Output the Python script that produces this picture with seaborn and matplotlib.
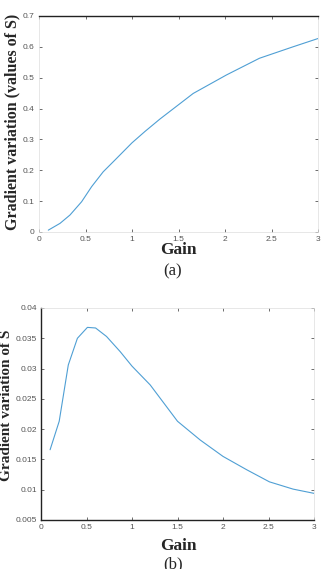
import matplotlib

matplotlib.use("Agg")

import matplotlib.pyplot as plt
import pandas as pd
import seaborn as sns

# (a) values of S against gain
gain_a = [0.1, 0.226, 0.333, 0.458, 0.566, 0.69, 0.816, 1.0, 1.14, 1.3, 1.533, 1.658, 2.016, 2.37, 2.73, 3.0]
s_a = [0.006, 0.028, 0.055, 0.098, 0.147, 0.195, 0.233, 0.289, 0.326, 0.366, 0.42, 0.449, 0.509,
       0.563, 0.6, 0.627]

# (b) gradient variation of S against gain
gain_b = [0.1, 0.2, 0.3, 0.4, 0.51, 0.6, 0.72, 0.87, 1.0, 1.2, 1.5, 1.75, 2.0, 2.26, 2.51, 2.77, 3.0]
s_b = [0.0166, 0.0213, 0.0306, 0.035, 0.0368, 0.0367, 0.0353, 0.0328, 0.0304, 0.0273, 0.0213,
       0.0182, 0.0155, 0.0133, 0.0113, 0.0101, 0.0094]

xticks = [0, 0.5, 1, 1.5, 2, 2.5, 3]
xticklabels = ["0", "0.5", "1", "1.5", "2", "2.5", "3"]
yticks_a = [0, 0.1, 0.2, 0.3, 0.4, 0.5, 0.6, 0.7]
yticks_b = [0.005, 0.01, 0.015, 0.02, 0.025, 0.03, 0.035, 0.04]

LINE = "#4f9fd4"
SERIF = "Liberation Serif"
W, H = 325, 569


def style_axis(ax, dark_spines):
    ax.tick_params(direction="in", length=2, width=0.6, labelsize=6,
                   colors="#555555", top=True, right=True, pad=3)
    ax.set_xlabel("")
    ax.set_ylabel("")
    for spine in ax.spines.values():
        spine.set_visible(True)
        spine.set_linewidth(0.5)
        spine.set_color("#dddddd")
    for name in dark_spines:
        ax.spines[name].set_color("#222222")
        ax.spines[name].set_linewidth(1.0)


def main() -> None:
    sns.set_style("ticks")
    plt.rcParams["font.family"] = ["Liberation Sans", "DejaVu Sans"]

    df_a = pd.DataFrame({"gain": gain_a, "s": s_a})
    df_b = pd.DataFrame({"gain": gain_b, "s": s_b})

    fig = plt.figure(figsize=(W / 100, H / 100), dpi=100)
    ax_a = fig.add_axes([39 / W, 1 - 232 / H, 279 / W, 216 / H])
    ax_b = fig.add_axes([41 / W, 1 - 520 / H, 273 / W, 212 / H])

    sns.lineplot(data=df_a, x="gain", y="s", ax=ax_a, color=LINE, linewidth=0.8)
    ax_a.set_xlim(0, 3)
    ax_a.set_ylim(0, 0.7)
    ax_a.set_xticks(xticks)
    ax_a.set_xticklabels(xticklabels)
    ax_a.set_yticks(yticks_a)
    ax_a.set_yticklabels([f"{v:g}" for v in yticks_a])
    style_axis(ax_a, ["top"])

    sns.lineplot(data=df_b, x="gain", y="s", ax=ax_b, color=LINE, linewidth=0.8)
    ax_b.set_xlim(0, 3)
    ax_b.set_ylim(0.005, 0.04)
    ax_b.set_xticks(xticks)
    ax_b.set_xticklabels(xticklabels)
    ax_b.set_yticks(yticks_b)
    ax_b.set_yticklabels([f"{v:g}" for v in yticks_b])
    style_axis(ax_b, ["left", "bottom"])

    # axis titles placed as in the original page layout
    fig.text(12 / W, 1 - 122 / H, "Gradient variation (values of S)", rotation=90,
             ha="center", va="center", fontsize=11.5, weight="bold", family=SERIF)
    fig.text(7 / W, 1 - 405 / H, "Gradient variation of S", rotation=90,
             ha="center", va="center", fontsize=11, weight="bold", family=SERIF)
    fig.text(178 / W, 1 - 250 / H, "Gain", ha="center", va="center",
             fontsize=12.5, weight="bold", family=SERIF)
    fig.text(178 / W, 1 - 546 / H, "Gain", ha="center", va="center",
             fontsize=12.5, weight="bold", family=SERIF)
    fig.text(173 / W, 1 - 271 / H, "(a)", ha="center", va="center", fontsize=12, family=SERIF)
    fig.text(173 / W, 1 - 564 / H, "(b)", ha="center", va="center", fontsize=12, family=SERIF)

    fig.savefig("out.png", dpi=100)
    plt.close(fig)


if __name__ == "__main__":
    main()
